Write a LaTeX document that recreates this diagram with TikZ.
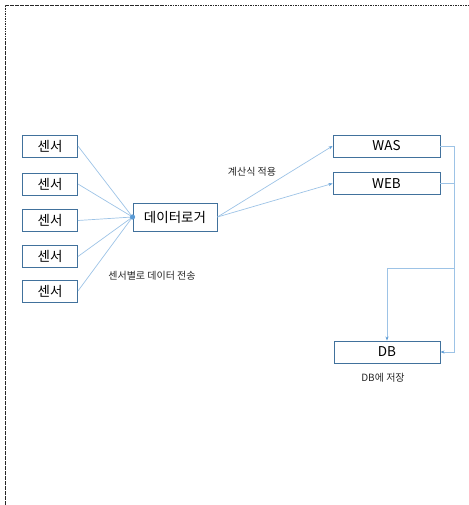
\documentclass[tikz,border=0pt]{standalone}
\usepackage{fontspec}
\setmainfont{Noto Sans CJK KR}
\usetikzlibrary{arrows.meta}
\definecolor{boxline}{HTML}{41719C}
\definecolor{wire}{HTML}{9DC3E6}
\definecolor{tip}{HTML}{5B9BD5}
\tikzset{
  box/.style={draw=boxline, line width=0.9pt, fill=white, inner sep=0pt,
              font=\fontsize{13.5}{15}\selectfont},
  sensor/.style={box, minimum width=55pt, minimum height=22pt},
  server/.style={box, minimum width=107pt, minimum height=22pt},
  wireline/.style={draw=wire, line width=0.7pt},
  arr/.style={wireline, -{Stealth[length=4pt,width=3pt,color=tip]}},
  note/.style={font=\fontsize{10}{12}\selectfont, text=black!85},
  frame/.style={draw=black!85, line width=0.9pt, dash pattern=on 1.6pt off 0.9pt}
}
\begin{document}
\begin{tikzpicture}[x=1pt,y=-1pt]
  \useasboundingbox (0,0) rectangle (468,505);
  % dotted page outline (top and left edges)
  \draw[frame] (5,505) -- (5,5) -- (468,5);

  % sensors
  \node[sensor] (s1) at (50,146)   {센서};
  \node[sensor] (s2) at (50,184)   {센서};
  \node[sensor] (s3) at (50,220.5) {센서};
  \node[sensor] (s4) at (50,256.5) {센서};
  \node[sensor] (s5) at (50,291)   {센서};

  % data logger
  \node[box, minimum width=84pt, minimum height=28pt] (dl) at (175,217) {데이터로거};

  % servers and storage
  \node[server] (was) at (386.5,146)   {WAS};
  \node[server] (web) at (386.5,183.5) {WEB};
  \node[server, minimum width=106pt] (db) at (387,352) {DB};

  % sensor links into the logger
  \foreach \s in {s1,s2,s3,s4,s5}
    \draw[wireline] (\s.east) -- (dl.west);
  \fill[tip] (dl.west) circle (2.6pt);

  % logger to servers
  \draw[arr] (dl.east) -- (was.west);
  \draw[arr] (dl.east) -- (web.west);

  % servers to DB
  \coordinate (split) at (454,268);
  \draw[arr] (was.east) -- ++(14,0) |- (db.east);
  \draw[wireline] (web.east) -- ++(14,0);
  \draw[arr] (split) -| (db.north);

  % labels
  \node[note] (lcalc) at (252,172) {계산식 적용};
  \node[note] (lsend) at (152,276) {센서별로 데이터 전송};
  \node[note] (lstore) at (383,378) {DB에 저장};
\end{tikzpicture}
\end{document}
